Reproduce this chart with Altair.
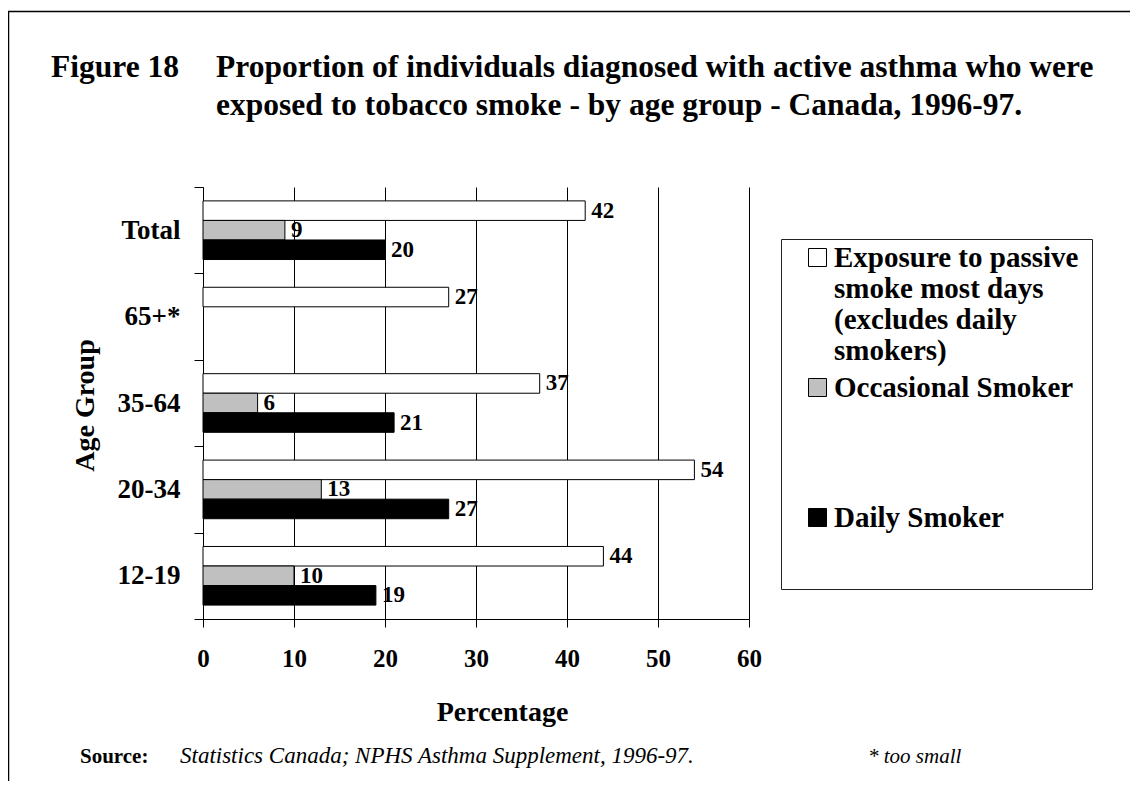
import altair as alt
import pandas as pd

FONT = "Liberation Serif"

# ---- data ----
groups = ["Total", "65+*", "35-64", "20-34", "12-19"]
series = [
    "Exposure to passive smoke most days (excludes daily smokers)",
    "Occasional Smoker",
    "Daily Smoker",
]
passive = [42, 27, 37, 54, 44]
occasional = [9, None, 6, 13, 10]
daily = [20, None, 21, 27, 19]
colors = ["#ffffff", "#c0c0c0", "#000000"]
x_ticks = [0, 10, 20, 30, 40, 50, 60]

legend_lines = {
    series[0]: ["Exposure to passive\u00a0\u2006", "smoke most days", "(excludes daily", "smokers)"],
    series[1]: ["Occasional Smoker", "", "", ""],
    series[2]: ["Daily Smoker"],
}

title_lead = "Figure 18"
title_line1 = "Proportion of individuals diagnosed with active asthma who were"
title_line2 = "exposed to tobacco smoke - by age group - Canada, 1996-97."
source_label = "Source:"
source_text = "Statistics Canada; NPHS Asthma Supplement, 1996-97."
note_text = "* too small"

rows = []
for g, p, o, d in zip(groups, passive, occasional, daily):
    for s, v in zip(series, (p, o, d)):
        if v is not None:
            rows.append({"group": g, "series": s, "value": v})
df = pd.DataFrame(rows)


def js_list(items):
    return "[" + ", ".join("'" + t.replace("'", "\\'") + "'" for t in items) + "]"


label_expr = ""
for s in series:
    label_expr += "datum.label == '%s' ? %s : " % (s, js_list(legend_lines[s]))
label_expr += "datum.label"

# square sitting on the label baseline
SYMBOL = "M-1,-2L1,-2L1,0L-1,0Z"

y_enc = alt.Y(
    "group:N",
    sort=groups,
    scale=alt.Scale(paddingInner=0, paddingOuter=0),
    axis=alt.Axis(
        title="Age Group",
        tickBand="extent",
        grid=False,
        domainColor="black",
        tickColor="black",
        tickSize=9,
        labelFont=FONT,
        labelFontSize=27,
        labelFontWeight="bold",
        labelColor="black",
        labelPadding=14,
        titleFont=FONT,
        titleFontSize=28,
        titleFontWeight="bold",
        titleColor="black",
        titleAngle=270,
        titleX=-110,
        titleY=218,
        titleAlign="center",
        titleBaseline="alphabetic",
    ),
)
yoff_enc = alt.YOffset(
    "series:N", sort=series, scale=alt.Scale(paddingInner=0, paddingOuter=0.71)
)
x_enc = alt.X(
    "value:Q",
    scale=alt.Scale(domain=[0, 60], nice=False),
    axis=alt.Axis(
        title="Percentage",
        values=x_ticks,
        grid=True,
        gridColor="black",
        gridOpacity=1,
        gridWidth=1,
        domainColor="black",
        tickColor="black",
        tickSize=8,
        labelFont=FONT,
        labelFontSize=25,
        labelFontWeight="bold",
        labelColor="black",
        labelPadding=19,
        labelFlush=False,
        titleFont=FONT,
        titleFontSize=28,
        titleFontWeight="bold",
        titleColor="black",
        titleX=299,
        titleY=101,
        titleAlign="center",
        titleBaseline="alphabetic",
    ),
)

bars = alt.Chart(df).mark_bar(stroke="black", strokeWidth=1).encode(
    x=x_enc,
    y=y_enc,
    yOffset=yoff_enc,
    color=alt.Color(
        "series:N",
        sort=series,
        scale=alt.Scale(domain=series, range=colors),
        legend=alt.Legend(
            orient="none",
            legendX=578,
            legendY=52,
            direction="vertical",
            title="\u00a0" * 20,
            titleOrient="bottom",
            titleFont=FONT,
            titleFontSize=27.8,
            titlePadding=15,
            titleLimit=1000,
            titleBaseline="top",
            padding=13,
            strokeColor="#222222",
            fillColor="white",
            symbolType=SYMBOL,
            symbolSize=324,
            symbolStrokeColor="black",
            symbolStrokeWidth=1,
            symbolOffset=9,
            labelOffset=2,
            labelFont=FONT,
            labelFontSize=29,
            labelFontWeight="bold",
            labelColor="black",
            labelLimit=1000,
            labelBaseline="alphabetic",
            labelExpr=label_expr,
            rowPadding=7,
        ),
    ),
)

values = alt.Chart(df).mark_text(
    align="left", baseline="middle", dx=6, font=FONT, fontSize=23,
    fontWeight="bold", color="black",
).encode(
    x=alt.X("value:Q"),
    y=alt.Y("group:N", sort=groups),
    yOffset=alt.YOffset("series:N", sort=series),
    text=alt.Text("value:Q"),
)

one = pd.DataFrame({"k": [0]})


def note(text, x, y, size, weight="bold", style="normal"):
    return alt.Chart(one).mark_text(
        text=text, x=x, y=y, align="left", baseline="alphabetic",
        font=FONT, fontSize=size, fontWeight=weight, fontStyle=style, color="black",
    )


frame = alt.Chart(one).mark_rect(
    x=-194.5, y=-175.5, x2=1100, y2=800, fillOpacity=0, stroke="black", strokeWidth=1.5
)

chart = alt.layer(
    frame,
    bars,
    values,
    note(title_lead, -152, -110, 31.5),
    note(title_line1, 13, -110, 31.5),
    note(title_line2, 13, -72, 31.5),
    note(source_label, -123, 576, 21),
    note(source_text, -23, 576, 23, weight="normal", style="italic"),
    note(note_text, 665, 576, 21, weight="normal", style="italic"),
).properties(
    width=546,
    height=432,
    padding={"left": 195, "top": 179, "right": 381, "bottom": 162},
    autosize=alt.AutoSizeParams(type="none"),
    background="white",
).configure_view(stroke="transparent")

chart.save("out.html", embed_options={"renderer": "svg", "actions": False})
